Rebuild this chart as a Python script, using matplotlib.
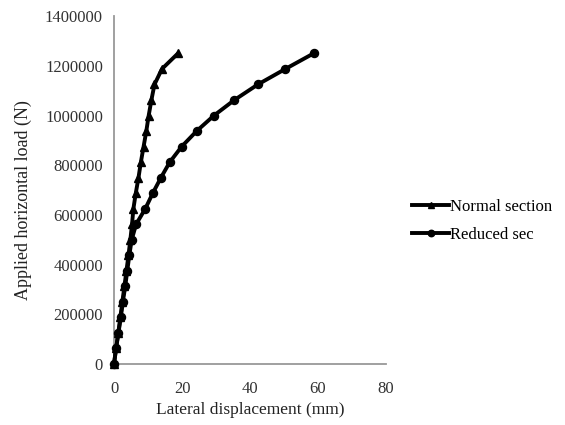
import matplotlib
matplotlib.use("Agg")
import matplotlib.pyplot as plt

plt.rcParams['font.family'] = ['Liberation Serif', 'DejaVu Serif']

load = [0, 62500, 125000, 187500, 250000, 312500, 375000, 437500, 500000, 562500,
        625000, 687500, 750000, 812500, 875000, 937500, 1000000, 1062500, 1125000,
        1187500, 1250000]
normal_disp = [0, 0.6, 1.25, 1.85, 2.45, 3.05, 3.65, 4.25, 4.8, 5.3, 5.7, 6.4, 7.2,
               7.9, 8.7, 9.5, 10.2, 11.0, 11.9, 14.1, 18.8]
reduced_disp = [0, 0.6, 1.3, 2.0, 2.6, 3.3, 3.9, 4.5, 5.2, 6.5, 9.2, 11.4, 13.8,
                16.4, 19.9, 24.3, 29.4, 35.4, 42.3, 50.4, 58.7]

fig = plt.figure(figsize=(5.65, 4.25), dpi=100)
ax = fig.add_axes([0.2018, 0.1435, 0.4814, 0.8185])

ax.plot(normal_disp, load, color='black', lw=2.8, marker='^', ms=5.5,
        label='Normal section', clip_on=False, zorder=3)
ax.plot(reduced_disp, load, color='black', lw=2.8, marker='o', ms=5.8,
        label='Reduced sec', clip_on=False, zorder=3)

ax.set_xlim(0, 80)
ax.set_ylim(0, 1400000)
ax.set_xticks([0, 20, 40, 60, 80])
ax.set_yticks(range(0, 1400001, 200000))
ax.ticklabel_format(style='plain', axis='y')
ax.tick_params(length=0, labelsize=12, colors='#333333')
ax.tick_params(axis='y', pad=8)
ax.tick_params(axis='x', pad=12)
for s in ['top', 'right']:
    ax.spines[s].set_visible(False)
for s in ['left', 'bottom']:
    ax.spines[s].set_color('#999999')
    ax.spines[s].set_linewidth(1.3)
ax.set_xlabel('Lateral displacement (mm)', fontsize=12.5, color='#222222', labelpad=4)
ax.set_ylabel('Applied horizontal load (N)', fontsize=13, color='#222222')
ax.yaxis.set_label_coords(-0.30, 0.47)

leg = fig.legend(handles=ax.get_lines(), loc='upper left', bbox_to_anchor=(0.703, 0.568),
                 frameon=False, fontsize=12, handlelength=2.2, handletextpad=0.05,
                 labelspacing=0.75, markerscale=0.8)
fig.savefig('out.png', dpi=100)
